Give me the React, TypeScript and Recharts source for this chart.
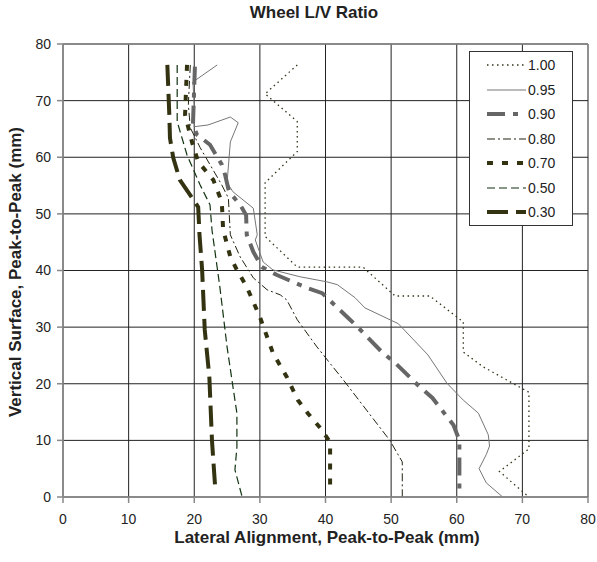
import { CartesianGrid, Legend, Line, LineChart, ReferenceLine, XAxis, YAxis } from "recharts";

// points are [lateral (mm), vertical (mm)]
const lv100: [number, number][] = [
  [35.7, 76.3], [30.8, 71.2], [35.7, 66.3], [35.7, 61], [30.8, 55.5], [30.8, 46],
  [35.7, 40.6], [45.7, 40.6], [50.6, 35.5], [55.9, 35.5], [61, 30.9], [61, 25.6],
  [64, 23], [71, 18.5], [71, 8.5], [66.5, 4.5], [71, 0],
];
const lv095: [number, number][] = [
  [23.5, 76.3], [19.8, 73.3], [20, 69], [20, 65.4], [22.1, 65.7], [25.5, 67.1],
  [26.7, 66.1], [25.5, 62.7], [25, 55.5], [25.9, 53.9], [29, 51], [29.6, 46.3],
  [29.3, 45.4], [30.5, 41.5], [32, 40.1], [36.1, 38.9], [40.2, 38], [41.8, 37.5],
  [44.5, 35.2], [46, 33.4], [51.1, 30.6], [55.6, 25.1], [58.5, 20.1], [61, 17.1],
  [63.3, 14.8], [64.8, 11], [65, 9], [64.5, 7.5], [63.4, 5], [64.5, 2.5], [67, 0],
];
const lv090: [number, number][] = [
  [20.1, 76], [19.8, 65.7], [20.4, 64], [22.4, 62.2], [24.2, 58.7], [24.7, 56.9],
  [25.3, 53.9], [27, 51.6], [27.9, 49.8], [28, 46.3], [29, 43.3], [30.3, 40.6],
  [32.6, 39.2], [37.2, 36.9], [39.5, 36], [43.3, 31.8], [45, 29.9], [48.6, 25.6],
  [50.6, 23.7], [54.4, 19.4], [56.3, 17.5], [59.5, 12.7], [60.4, 10], [60.4, 0],
];
const lv080: [number, number][] = [
  [19.4, 76.3], [19.1, 69.3], [19.4, 65.2], [20.9, 61.7], [22.7, 58.1], [24.2, 55.1],
  [25.2, 52.8], [25.5, 46.3], [27, 42.4], [29, 38.7], [31.1, 36.6], [33.1, 35.7],
  [34.1, 34.8], [35.7, 31.3], [38.7, 26.5], [42.7, 20.7], [49.8, 10], [51.7, 6.2],
  [51.7, 0],
];
const lv070: [number, number][] = [
  [18.9, 76.3], [18.6, 67.5], [19.7, 62.5], [20.6, 59.2], [22.9, 56], [24.2, 52.1],
  [24.4, 47.2], [25.5, 42.4], [26.5, 40.1], [28, 37.1], [30, 31.8], [32, 25.4],
  [34.1, 21.2], [35.8, 17.1], [37.3, 14.8], [39.2, 12.2], [40.7, 9.7], [40.7, 1.5],
];
const lv050: [number, number][] = [
  [17.4, 76.3], [17.4, 66.3], [18.9, 60.4], [20.9, 55.1], [22.4, 51.6], [22.7, 47.2],
  [23.9, 37.1], [25, 26.5], [26.2, 17.1], [26.5, 14.8], [26.5, 8.8], [26.2, 4.8],
  [27.3, 0],
];
const lv030: [number, number][] = [
  [15.9, 76.3], [16.2, 67.5], [16.3, 63.4], [16.8, 59.9], [17.8, 56], [19.7, 52.8],
  [20.6, 51.2], [20.8, 46.3], [21.2, 40.1], [21.6, 29.5], [22.3, 21.2], [22.7, 10],
  [23.2, 1.5],
];

const xTicks = [0, 10, 20, 30, 40, 50, 60, 70, 80];
const yTicks = [0, 10, 20, 30, 40, 50, 60, 70, 80];

const SERIES = [
  { name: "1.00", pts: lv100, color: "#33331a", width: 1.3, dash: "1.5 3.5" },
  { name: "0.95", pts: lv095, color: "#777777", width: 1, dash: undefined },
  { name: "0.90", pts: lv090, color: "#666666", width: 4, dash: "18 8 5 8" },
  { name: "0.80", pts: lv080, color: "#222211", width: 1, dash: "8 3 2 3" },
  { name: "0.70", pts: lv070, color: "#333311", width: 4, dash: "6 9" },
  { name: "0.50", pts: lv050, color: "#113311", width: 1.2, dash: "8 4" },
  { name: "0.30", pts: lv030, color: "#333311", width: 4, dash: "21 8" },
];

const FONT = '"Liberation Sans", Arial, sans-serif';

function LegendBox() {
  return (
    <div style={{ border: "1px solid #333", background: "#fff", width: 102, paddingTop: 1, fontFamily: FONT }}>
      {SERIES.map((s) => (
        <div key={s.name} style={{ display: "flex", alignItems: "center", height: 24.5 }}>
          <svg width={56} height={10}>
            <line x1={17} x2={56} y1={5} y2={5} stroke={s.color} strokeWidth={s.width}
              strokeDasharray={s.dash} />
          </svg>
          <span style={{ marginLeft: 2, fontSize: 14, color: "#222" }}>{s.name}</span>
        </div>
      ))}
    </div>
  );
}

export default function App() {
  return (
    <div style={{ position: "absolute", left: 0, top: 0, width: 597, height: 562, background: "#fff", fontFamily: FONT }}>
      <div style={{ position: "absolute", left: 314, top: 3, transform: "translateX(-50%)", fontSize: 17,
        fontWeight: "bold", color: "#222", whiteSpace: "nowrap" }}>
        Wheel L/V Ratio
      </div>
      <LineChart width={597} height={562} margin={{ top: 44, right: 9, bottom: 0, left: 0 }}>
        <CartesianGrid stroke="#222" strokeWidth={1} />
        <XAxis type="number" dataKey="x" domain={[0, 80]} ticks={xTicks} allowDataOverflow
          height={65} tickSize={6} tickMargin={11} stroke="#888" strokeWidth={1.5}
          tick={{ fill: "#222", fontSize: 14 }} />
        <YAxis type="number" domain={[0, 80]} ticks={yTicks} allowDataOverflow width={63}
          tickSize={6} tickMargin={6} stroke="#888" strokeWidth={1.5}
          tick={{ fill: "#222", fontSize: 14 }} />
        <ReferenceLine y={80} stroke="#888" strokeWidth={1.5} />
        {SERIES.map((s) => (
          <Line key={s.name} name={s.name} data={s.pts.map(([x, y]) => ({ x, y }))} dataKey="y"
            type="linear" stroke={s.color} strokeWidth={s.width} strokeDasharray={s.dash}
            dot={false} activeDot={false} isAnimationActive={false} />
        ))}
        <Legend layout="vertical" align="center" verticalAlign="middle" content={() => <LegendBox />}
          wrapperStyle={{ left: 469, top: 51, width: 104 }} />
      </LineChart>
      <div style={{ position: "absolute", left: 327, top: 528, transform: "translateX(-50%)", fontSize: 17,
        fontWeight: "bold", color: "#222", whiteSpace: "nowrap" }}>
        Lateral Alignment, Peak-to-Peak (mm)
      </div>
      <div style={{ position: "absolute", left: 16, top: 272, transform: "translate(-50%, -50%) rotate(-90deg)",
        fontSize: 17, fontWeight: "bold", color: "#222", whiteSpace: "nowrap" }}>
        Vertical Surface, Peak-to-Peak (mm)
      </div>
    </div>
  );
}
